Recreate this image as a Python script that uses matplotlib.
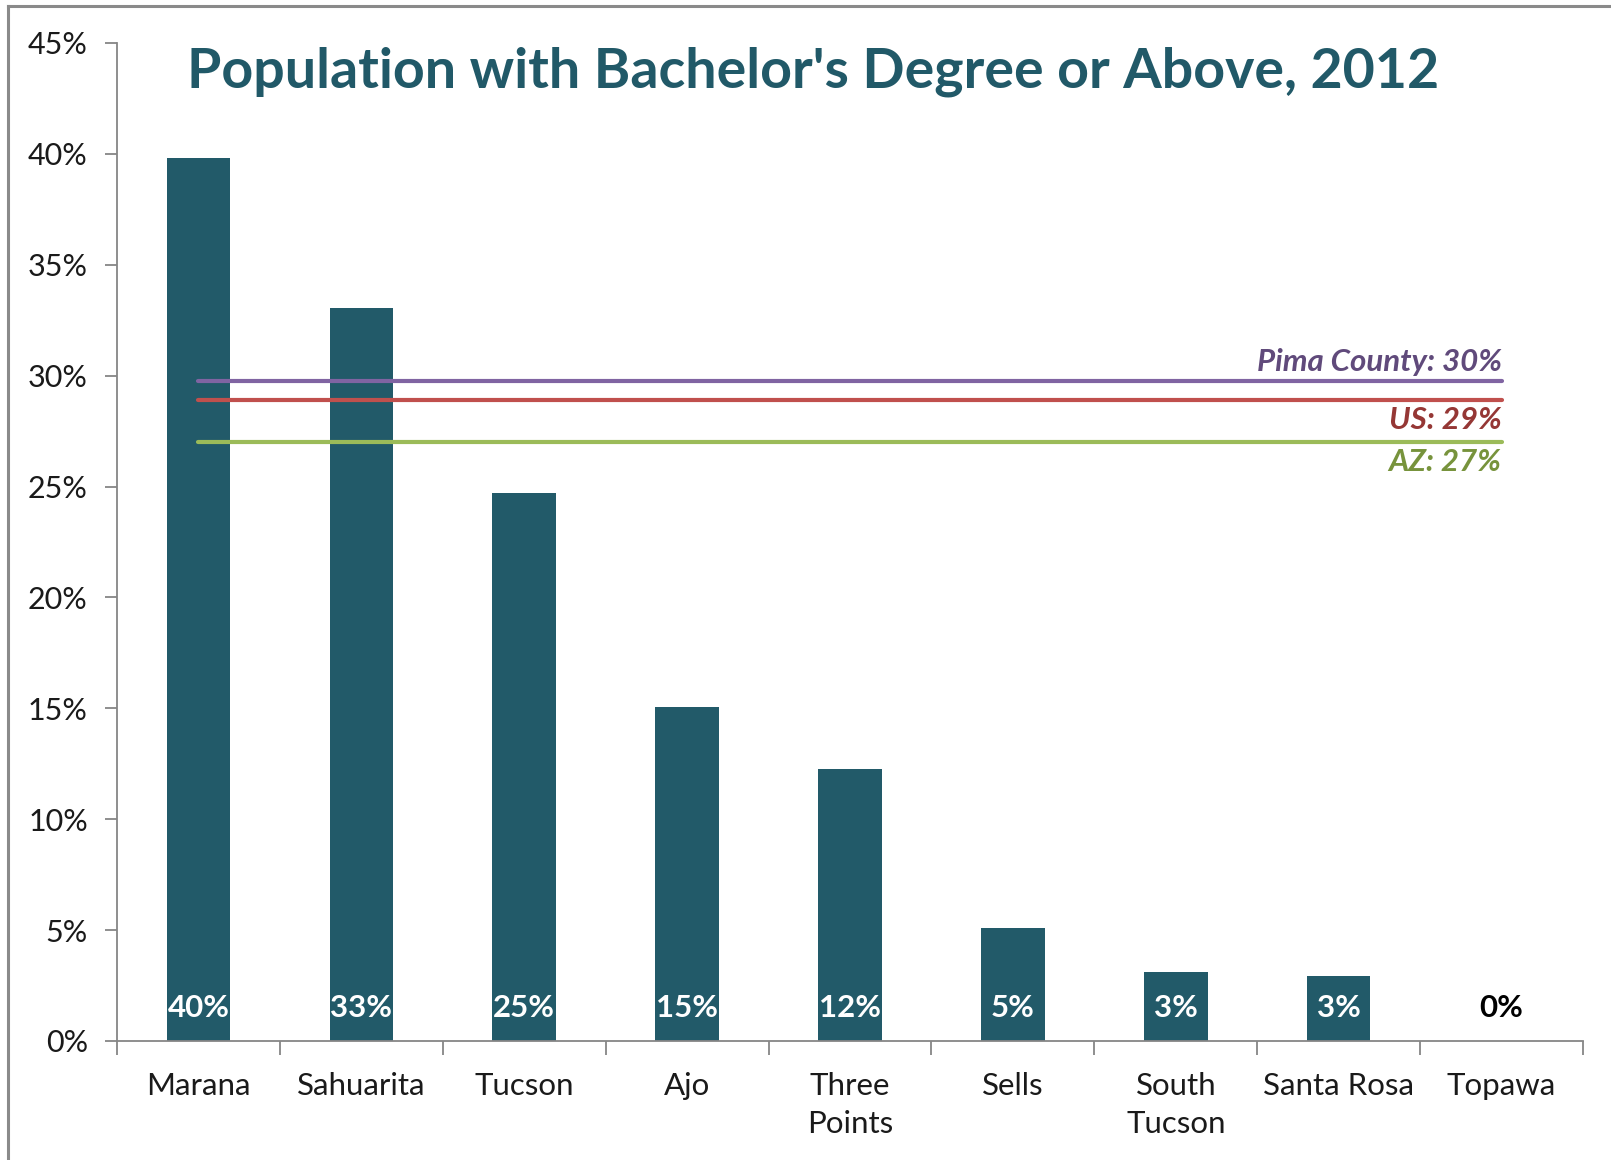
import matplotlib
matplotlib.use("Agg")
import matplotlib.pyplot as plt
from matplotlib.lines import Line2D
import numpy as np

categories = ["Marana", "Sahuarita", "Tucson", "Ajo", "Three\nPoints", "Sells",
              "South\nTucson", "Santa Rosa", "Topawa"]
values = [39.8, 33.05, 24.7, 15.05, 12.25, 5.1, 3.1, 2.95, 0.0]
bar_labels = ["40%", "33%", "25%", "15%", "12%", "5%", "3%", "3%", "0%"]
ref_names = ["Pima County: 30%", "US: 29%", "AZ: 27%"]
ref_values = [29.75, 28.9, 27.0]
yticks = [0, 5, 10, 15, 20, 25, 30, 35, 40, 45]

FONT = ["Lato", "DejaVu Sans"]
plt.rcParams['font.family'] = FONT

W, H = 1611, 1160
fig = plt.figure(figsize=(W / 100, H / 100), dpi=100)
ax = fig.add_axes([117 / W, 1 - 1041 / H, (1583 - 117) / W, (1041 - 43) / H])

bar_color = "#225A69"
x = np.arange(len(categories))
ax.bar(x, values, width=0.39, color=bar_color, zorder=2)

for xi, v, lab in zip(x, values, bar_labels):
    col = "white" if v > 0 else "black"
    ax.annotate(lab, (xi, 0), xytext=(0, 24), textcoords="offset points",
                ha="center", va="center", color=col, fontsize=22.5, fontweight="bold")

line_cols = ["#8064A2", "#C0504D", "#9BBB59"]
text_cols = ["#604A7B", "#953735", "#77933C"]
for i, (nm, v) in enumerate(zip(ref_names, ref_values)):
    ax.plot([x[0], x[-1]], [v, v], color=line_cols[i], lw=3, solid_capstyle="round", zorder=3)
    if i == 0:
        ax.annotate(nm, (x[-1], v), xytext=(0, 4), textcoords="offset points",
                    ha="right", va="bottom", color=text_cols[i], fontsize=22.5,
                    fontweight="bold", fontstyle="italic")
    else:
        ax.annotate(nm, (x[-1], v), xytext=(0, -4), textcoords="offset points",
                    ha="right", va="top", color=text_cols[i], fontsize=22.5,
                    fontweight="bold", fontstyle="italic")

ax.set_xlim(-0.5, len(categories) - 0.5)
ax.set_ylim(0, 45)
ax.set_yticks(yticks)
ax.set_yticklabels([f"{t}%" for t in yticks], fontsize=22, color="#1a1a1a")
ax.set_xticks(x)
ax.set_xticklabels(categories, fontsize=22.5, color="#1a1a1a", linespacing=1.45)
ax.set_xticks(np.arange(-0.5, len(categories)), minor=True)
ax.tick_params(axis="x", which="major", length=0, pad=22)
ax.tick_params(axis="x", which="minor", length=10, color="#868686", width=1.3)
ax.tick_params(axis="y", length=9, color="#868686", width=1.3, pad=12)

for s in ["top", "right"]:
    ax.spines[s].set_visible(False)
for s in ["left", "bottom"]:
    ax.spines[s].set_color("#868686")
    ax.spines[s].set_linewidth(1.3)

fig.text((193 + 1434) / 2 / W, 1 - 72 / H, "Population with Bachelor's Degree or Above, 2012",
         ha="center", va="center", fontsize=40, fontweight="bold", color="#215968")

# outer frame (left and top edges)
fig.add_artist(Line2D([8 / W, 8 / W], [0, 1 - 6 / H], transform=fig.transFigure,
                      color="#8a8a8a", lw=2.2))
fig.add_artist(Line2D([8 / W, 1], [1 - 6 / H, 1 - 6 / H], transform=fig.transFigure,
                      color="#8a8a8a", lw=2.2))

fig.savefig("out.png", dpi=100, facecolor="white")
